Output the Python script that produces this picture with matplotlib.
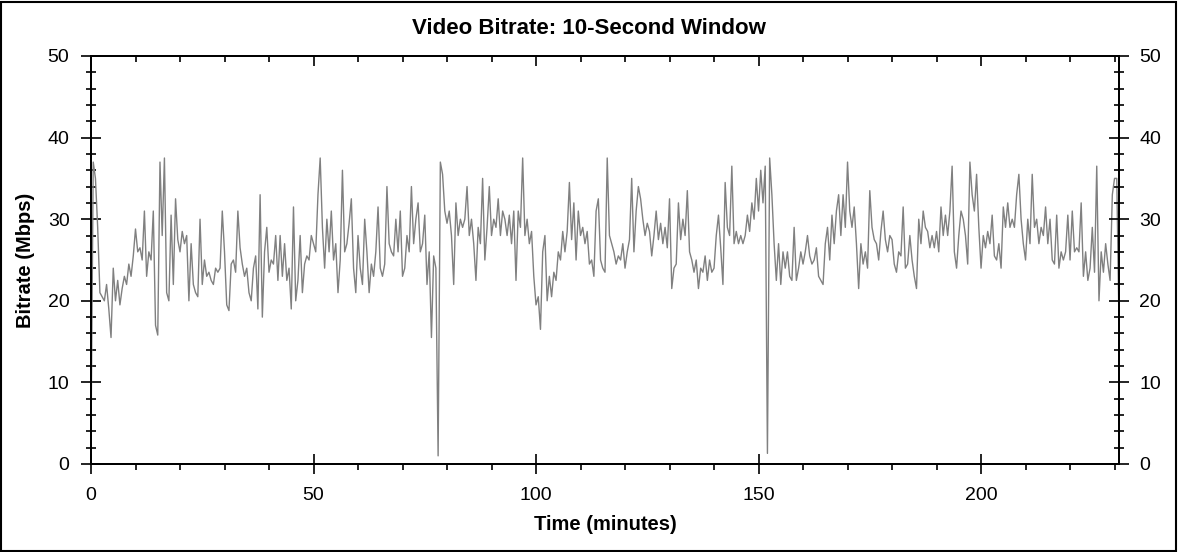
import numpy as np
import matplotlib
matplotlib.use("Agg")
import matplotlib.pyplot as plt
from matplotlib.ticker import MultipleLocator
from matplotlib.patches import Rectangle

# --- data: bitrate (Mbps), one value every half minute ---
step_min = 0.5
bitrate = [
    3, 37, 35, 29, 21, 20.5, 20, 22, 19, 15.5,
    24, 20, 22.5, 19.5, 21.5, 23, 22, 24.5, 23, 25.5,
    28.8, 26, 26.5, 25, 31, 23, 26, 25, 31, 17,
    15.8, 37, 28, 37.5, 21, 20, 30.5, 22, 32.5, 27.5,
    26, 28.5, 27, 28, 20, 27, 22, 21, 20.5, 30,
    22, 25, 23, 23.5, 22.5, 22, 24, 23.5, 24, 31,
    26, 19.5, 18.8, 24.5, 25, 23.5, 31, 26.5, 24.5, 23,
    24, 21, 20, 24, 25.5, 19, 33, 18, 26, 29,
    23.5, 25, 24.5, 28, 22.5, 28, 23, 27, 22.5, 24,
    19, 31.5, 20, 22.5, 28, 21, 24.5, 25.5, 25, 28,
    27, 26, 33, 37.5, 29, 24, 30, 26, 31, 25,
    27, 21, 25, 36, 26, 27, 29.5, 32.5, 24, 21,
    28, 24, 22, 30, 26, 21, 24.5, 23, 26, 31.5,
    24, 23, 24.5, 34, 27, 26, 25.5, 30, 26, 31,
    23, 24, 28, 26, 34, 27, 30, 32, 26, 27,
    30.5, 22, 26, 15.5, 25.5, 24, 1.0, 37, 35.5, 31,
    29.5, 31, 28, 22, 32, 28, 30, 29, 30, 34,
    28, 30, 27, 22.5, 29, 27, 35, 25, 29, 34,
    28, 30, 29, 32.5, 28, 31, 30, 28, 30.5, 27,
    31, 22.5, 31, 29, 37.5, 28, 30, 27, 28.5, 23,
    19.5, 20.5, 16.5, 26, 28, 20, 23, 20.5, 23.5, 22.5,
    26, 25, 28.5, 26, 28.5, 34.5, 27.5, 32, 25, 31,
    28, 29, 27, 28.5, 24.5, 25, 23, 31, 32.5, 25,
    24, 23.5, 37.5, 28, 27, 26, 24.5, 25.5, 25, 27,
    24, 26, 27.5, 35, 26, 31, 34, 32.5, 30, 28,
    29.5, 28.5, 25.5, 28, 31, 27.5, 29.5, 27, 29, 26.5,
    32.5, 21.5, 24, 24.5, 32, 27.5, 30, 28, 33.5, 26,
    25, 23.5, 25, 21.5, 24, 23.5, 25.5, 22.5, 25, 23.5,
    24, 28, 30.5, 26.5, 22, 34.5, 29, 28, 36.5, 27,
    28.5, 27, 28, 27, 28, 30.5, 28.5, 32, 30, 35,
    31, 36, 32, 36.5, 1.3, 37.5, 33, 27, 22.5, 27,
    22, 26, 24, 26, 23, 22.5, 29, 22.5, 24, 26,
    24.5, 26, 28, 25.5, 24.5, 25, 26.5, 23, 22.5, 22,
    27, 29, 25, 30.5, 27, 31, 33, 28, 33, 29,
    37, 31, 29, 31.5, 27, 21.5, 27, 24.5, 26, 24,
    33.5, 29, 27.5, 27, 25, 28.5, 31, 27.5, 26, 28,
    27.5, 24.5, 23.5, 26, 25.5, 31.5, 24, 24.5, 28, 25,
    23, 21.5, 30, 27, 31, 29, 28.5, 26.5, 28, 26.5,
    28.5, 26, 31.5, 28, 30.5, 28, 31, 36.5, 26, 24,
    28, 31, 30, 28, 24.5, 37, 33, 31, 35.5, 29,
    24, 28, 26.5, 28.5, 27, 30.5, 25.5, 25, 27, 24,
    31.5, 29, 32, 29, 30, 29, 33, 35.5, 30, 27,
    25, 30, 27, 35.5, 29, 30, 27, 29, 28, 31.5,
    27, 30, 25, 24.5, 30.5, 24, 26, 25, 26, 30.5,
    25, 31, 26, 26.5, 26, 32, 23, 26, 22.5, 24,
    29, 23.5, 36.5, 20, 26, 23.5, 27, 24.5, 22.5, 33,
    35, 35, 17,
]
minutes = np.arange(len(bitrate)) * step_min

fig = plt.figure(figsize=(11.78, 5.52), dpi=100)
plt.rcParams['font.family'] = ['Liberation Sans', 'DejaVu Sans']
ax = fig.add_axes([91 / 1178, 1 - 464 / 552, (1119 - 91) / 1178, (464 - 56) / 552])

ax.plot(minutes, bitrate, color='#808080', linewidth=1.0)
ax.set_xlim(0, 231)
ax.set_ylim(0, 50)

ax.xaxis.set_major_locator(MultipleLocator(50))
ax.xaxis.set_minor_locator(MultipleLocator(10))
ax.yaxis.set_major_locator(MultipleLocator(10))
ax.yaxis.set_minor_locator(MultipleLocator(2))

ax.tick_params(axis='x', which='major', direction='inout', length=15, width=1.2,
               labelsize=14, pad=9)
ax.tick_params(axis='x', which='minor', direction='out', length=4, width=1.2)
ax.tick_params(axis='y', which='major', direction='inout', length=15, width=1.2,
               labelsize=14, pad=8, left=True, right=False)
ax.tick_params(axis='y', which='minor', direction='inout', length=7, width=1.2)

# top ticks point inward
top = ax.twiny()
top.set_xlim(ax.get_xlim())
top.xaxis.set_major_locator(MultipleLocator(50))
top.xaxis.set_minor_locator(MultipleLocator(10))
top.tick_params(axis='x', which='major', direction='in', length=7, width=1.2, labeltop=False)
top.tick_params(axis='x', which='minor', direction='in', length=4, width=1.2)

# right axis mirrors the left
right = ax.twinx()
right.set_ylim(ax.get_ylim())
right.yaxis.set_major_locator(MultipleLocator(10))
right.yaxis.set_minor_locator(MultipleLocator(2))
right.tick_params(axis='y', which='major', direction='inout', length=15, width=1.2,
                  labelsize=14, pad=7)
right.tick_params(axis='y', which='minor', direction='inout', length=7, width=1.2)

for a in (ax, top, right):
    for sp in a.spines.values():
        sp.set_linewidth(1.2)

ax.set_xlabel('Time (minutes)', fontsize=14.5, fontweight='bold', labelpad=8)
ax.set_ylabel('Bitrate (Mbps)', fontsize=14.5, fontweight='bold', labelpad=9)
fig.text(0.5, 1 - 28 / 552, 'Video Bitrate: 10-Second Window', ha='center', va='center',
         fontsize=16, fontweight='bold')

# frame round the whole picture
fig.patches.append(Rectangle((0.001, 0.002), 0.997, 0.995, transform=fig.transFigure,
                             fill=False, edgecolor='black', linewidth=1.5))

fig.savefig('out.png', dpi=100)
